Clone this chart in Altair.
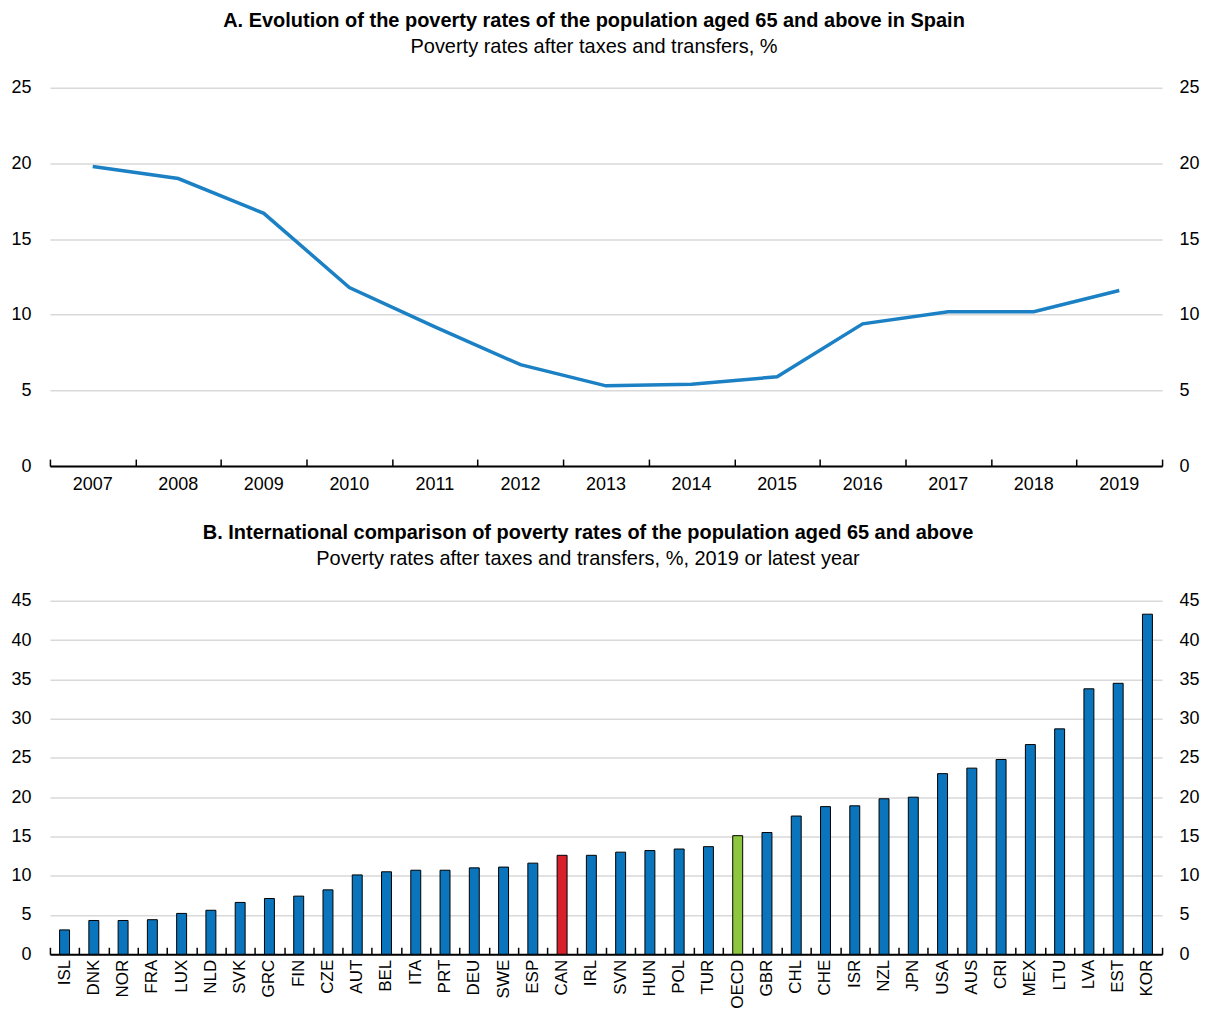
import altair as alt
import pandas as pd

# ---- Data ----
years = ["2007", "2008", "2009", "2010", "2011", "2012", "2013",
         "2014", "2015", "2016", "2017", "2018", "2019"]
spain_rates = [19.8, 19.0, 16.7, 11.8, 9.2, 6.7, 5.3, 5.4, 5.9, 9.4, 10.2, 10.2, 11.6]

countries = ["ISL", "DNK", "NOR", "FRA", "LUX", "NLD", "SVK", "GRC", "FIN", "CZE",
             "AUT", "BEL", "ITA", "PRT", "DEU", "SWE", "ESP", "CAN", "IRL", "SVN",
             "HUN", "POL", "TUR", "OECD", "GBR", "CHL", "CHE", "ISR", "NZL", "JPN",
             "USA", "AUS", "CRI", "MEX", "LTU", "LVA", "EST", "KOR"]
country_rates = [3.1, 4.3, 4.3, 4.4, 5.2, 5.6, 6.6, 7.1, 7.4, 8.2,
                 10.1, 10.5, 10.7, 10.7, 11.0, 11.1, 11.6, 12.6, 12.6, 13.0,
                 13.2, 13.4, 13.7, 15.1, 15.5, 17.6, 18.8, 18.9, 19.8, 20.0,
                 23.0, 23.7, 24.8, 26.7, 28.7, 33.8, 34.5, 43.3]

FONT = "Liberation Sans Narrow, Arial Narrow, Liberation Sans, sans-serif"
BLUE = "#0a75bc"
LINE_BLUE = "#1b80c4"
GRID = "#d9d9d9"

W = 1114
HA = 379
HB = 354

# ---- Panel A ----
dfA = pd.DataFrame({"year": years, "rate": spain_rates})

xA_scale = alt.Scale(type="band", domain=years, paddingInner=0, paddingOuter=0)
yA_scale = alt.Scale(domain=[0, 25])

lineA = alt.Chart(dfA).mark_line(color=LINE_BLUE, strokeWidth=3.5).encode(
    x=alt.X("year:N", scale=xA_scale, bandPosition=0.5,
            axis=alt.Axis(title=None, orient="bottom", labelAngle=0, ticks=False,
                          domain=True, domainColor="black", domainWidth=2,
                          labelPadding=9, grid=False)),
    y=alt.Y("rate:Q", scale=yA_scale,
            axis=alt.Axis(title=None, orient="left", values=[0, 5, 10, 15, 20, 25],
                          grid=True, gridColor=GRID, gridWidth=1.5, domain=False,
                          ticks=False, labelPadding=19)),
)

ghostA = alt.Chart(dfA).mark_line(strokeOpacity=0).encode(
    x=alt.X("year:N", scale=xA_scale, bandPosition=0.5,
            axis=alt.Axis(title=None, orient="top", offset=-HA, labels=False,
                          domain=False, ticks=True, tickBand="extent", tickSize=7,
                          tickColor="black", tickWidth=1.5, grid=False)),
    y=alt.Y("rate:Q", scale=yA_scale,
            axis=alt.Axis(title=None, orient="right", values=[0, 5, 10, 15, 20, 25],
                          grid=False, domain=False, ticks=False, labelPadding=17)),
)

chartA = alt.layer(lineA, ghostA).resolve_axis(x="independent", y="independent").properties(
    width=W, height=HA,
    title=alt.TitleParams(
        text="A. Evolution of the poverty rates of the population aged 65 and above in Spain",
        subtitle="Poverty rates after taxes and transfers, %",
        anchor="middle", dx=-12, offset=22),
)

# ---- Panel B ----
dfB = pd.DataFrame({"country": countries, "rate": country_rates})

xB_scale = alt.Scale(type="band", domain=countries, paddingInner=0.66, paddingOuter=0.33)
xB_tick_scale = alt.Scale(type="band", domain=countries, paddingInner=0, paddingOuter=0)
yB_scale = alt.Scale(domain=[0, 45])
yB_values = [0, 5, 10, 15, 20, 25, 30, 35, 40, 45]

barsB = alt.Chart(dfB).transform_calculate(
    grp="datum.country === 'CAN' ? 'CAN' : (datum.country === 'OECD' ? 'OECD' : 'other')"
).mark_bar(stroke="black", strokeWidth=1).encode(
    x=alt.X("country:N", scale=xB_scale,
            axis=alt.Axis(title=None, orient="bottom", labelAngle=-90, ticks=False,
                          domain=True, domainColor="black", domainWidth=2,
                          labelPadding=5, labelFontSize=17, grid=False)),
    y=alt.Y("rate:Q", scale=yB_scale,
            axis=alt.Axis(title=None, orient="left", values=yB_values,
                          grid=True, gridColor=GRID, gridWidth=1.5, domain=False,
                          ticks=False, labelPadding=19)),
    color=alt.Color("grp:N", legend=None,
                    scale=alt.Scale(domain=["other", "CAN", "OECD"],
                                    range=[BLUE, "#d7202a", "#8dc63f"])),
)

ghostB = alt.Chart(dfB).mark_bar(opacity=0).encode(
    x=alt.X("country:N", scale=xB_tick_scale,
            axis=alt.Axis(title=None, orient="top", offset=-HB, labels=False,
                          domain=False, ticks=True, tickBand="extent", tickSize=7,
                          tickColor="black", tickWidth=1.5, grid=False)),
    y=alt.Y("rate:Q", scale=yB_scale,
            axis=alt.Axis(title=None, orient="right", values=yB_values,
                          grid=False, domain=False, ticks=False, labelPadding=17)),
)

chartB = alt.layer(barsB, ghostB).resolve_scale(x="independent").resolve_axis(
    x="independent", y="independent").properties(
    width=W, height=HB,
    title=alt.TitleParams(
        text="B. International comparison of poverty rates of the population aged 65 and above",
        subtitle="Poverty rates after taxes and transfers, %, 2019 or latest year",
        anchor="middle", dx=-18, offset=23),
)

chart = alt.vconcat(chartA, chartB, spacing=30).properties(
    padding={"left": 2, "top": 2, "right": 2, "bottom": 2}
).configure_view(stroke=None).configure_axis(
    labelFont=FONT, labelFontSize=18, labelColor="black"
).configure_title(
    font=FONT, fontSize=20, fontWeight="bold", color="black",
    subtitleFont=FONT, subtitleFontSize=20, subtitleColor="black", subtitlePadding=6
)

chart.save("out.html", embed_options={"renderer": "svg", "actions": False})
